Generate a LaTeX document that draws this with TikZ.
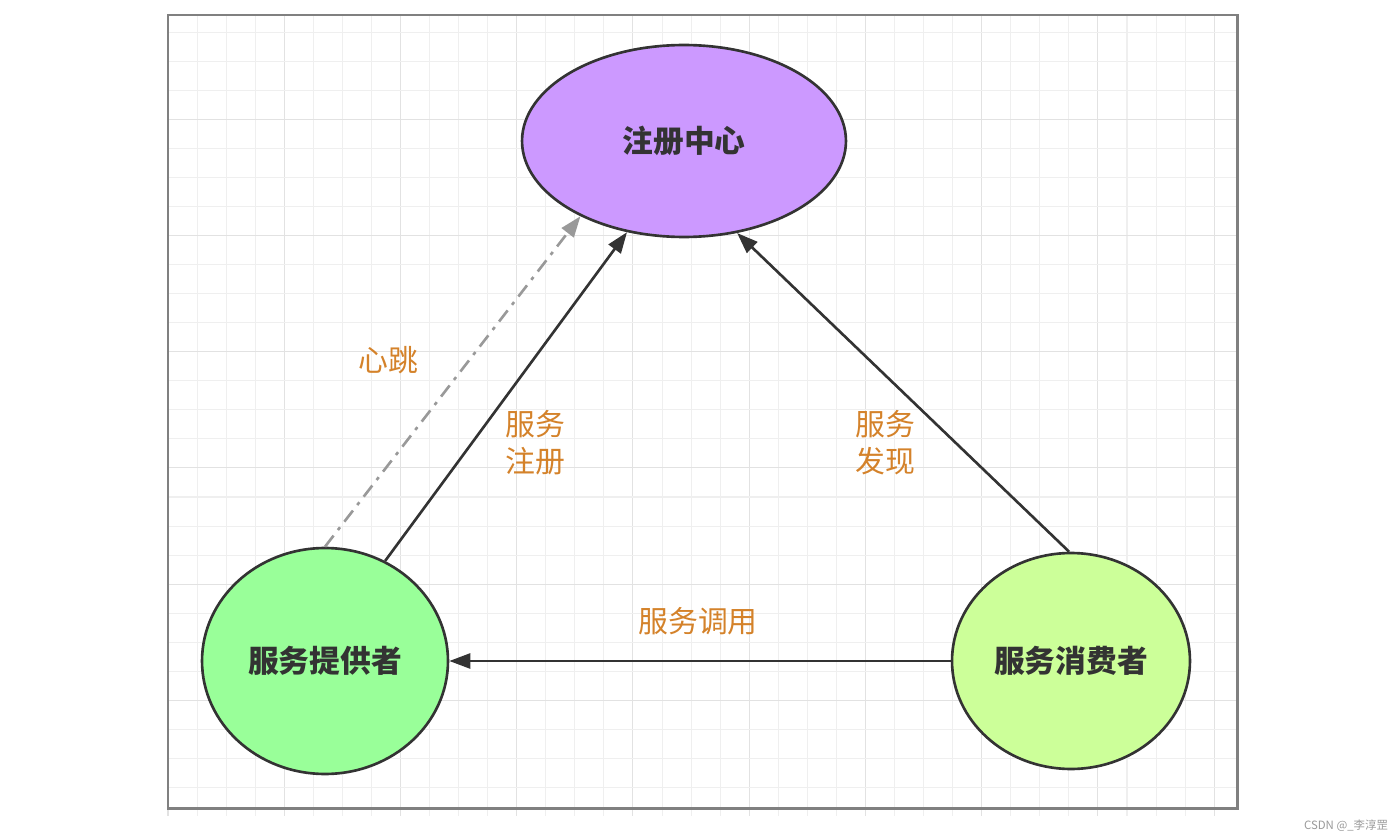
\documentclass[tikz,border=0pt]{standalone}
\usepackage{fontspec}
\newfontfamily\cjk{Noto Sans CJK SC}
\usepackage{tikz}
\usetikzlibrary{shapes.geometric,arrows.meta}
\usepackage{xcolor}
\definecolor{gridminor}{HTML}{EFEFEF}
\definecolor{gridmajor}{HTML}{E2E2E2}
\definecolor{frame}{HTML}{808080}
\definecolor{edge}{HTML}{333333}
\definecolor{beat}{HTML}{999999}
\definecolor{lbl}{HTML}{D4822A}
\definecolor{regfill}{HTML}{CC99FF}
\definecolor{provfill}{HTML}{99FF99}
\definecolor{consfill}{HTML}{CCFF99}

\begin{document}
\begin{tikzpicture}[x=0.02cm,y=-0.02cm,
  role/.style={ellipse,draw=edge,line width=1.5pt,inner sep=0pt,
    font=\cjk\bfseries\fontsize{17.5}{20}\selectfont,text=edge},
  call/.style={draw=edge,line width=1.5pt,
    -{Triangle[length=0.42cm,width=0.3cm]}},
  note/.style={font=\cjk\fontsize{17}{21}\selectfont,text=lbl,
    align=center}]
  \useasboundingbox (0,0) rectangle (1400,838);
  % 网格
  \foreach \i in {0,...,36}{
    \pgfmathtruncatemacro\m{mod(\i,4)}
    \ifnum\m=0 \def\gc{gridmajor}\else\def\gc{gridminor}\fi
    \draw[line width=0.6pt,\gc]
      ({168+29.06*\i},15) -- ({168+29.06*\i},816);
  }
  \foreach \j in {1,...,27}{
    \pgfmathtruncatemacro\m{mod(\j,4)}
    \ifnum\m=0 \def\gc{gridmajor}\else\def\gc{gridminor}\fi
    \draw[line width=0.6pt,\gc]
      (168,{3+29.06*\j}) -- (1237,{3+29.06*\j});
  }
  \draw[frame,line width=1.7pt] (168,15) rectangle (1237,808);
  % 三个角色
  \node[role,fill=regfill,minimum width=6.48cm,minimum height=3.84cm]
    (reg) at (684,141) {注册中心};
  \node[role,fill=provfill,minimum width=4.92cm,minimum height=4.52cm]
    (prov) at (325,661) {服务提供者};
  \node[role,fill=consfill,minimum width=4.76cm,minimum height=4.32cm]
    (cons) at (1071,661) {服务消费者};
  % 连线
  \draw[beat,line width=1.5pt,dash pattern=on 8pt off 4pt on 2pt off 4pt,
    -{Triangle[length=0.42cm,width=0.3cm]}] (prov.90) -- (reg.216);
  \draw[call] (prov.59) -- (reg.238);
  \draw[call] (cons.91) -- (reg.300);
  \draw[call] (cons.west) -- (prov.east);
  % 标签
  \node[note] (lbeat) at (388,360) {心跳};
  \node[note] (lreg) at (535,443) {服务\\注册};
  \node[note] (ldisc) at (885,443) {服务\\发现};
  \node[note] (linv) at (698,621) {服务调用};
  \node[font=\cjk\fontsize{6.5}{8}\selectfont,text=beat]
    (mark) at (1346,826) {CSDN @\_李淳罡};
\end{tikzpicture}
\end{document}
